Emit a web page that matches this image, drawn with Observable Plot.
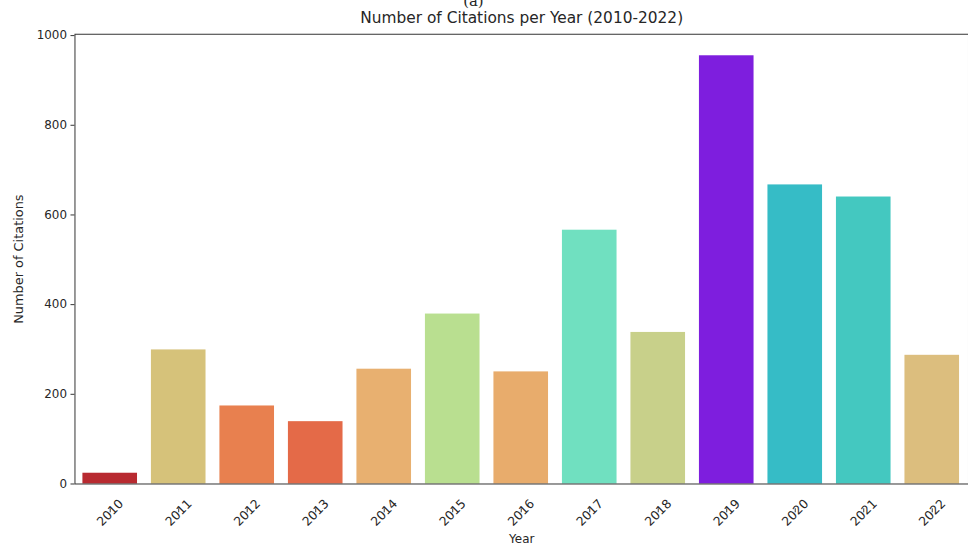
<!DOCTYPE html>
<html>
<head>
<meta charset="utf-8">
<script src="https://cdn.jsdelivr.net/npm/d3@7"></script>
<script src="https://cdn.jsdelivr.net/npm/@observablehq/plot@0.6"></script>
<style>
  html, body { margin: 0; padding: 0; background: #fff; overflow: hidden; }
  #chart { width: 968px; height: 551px; overflow: hidden; }
</style>
</head>
<body>
<div id="chart"></div>
<script>
const years = ["2010","2011","2012","2013","2014","2015","2016","2017","2018","2019","2020","2021","2022"];
const citations = [24, 299, 174, 139, 256, 379, 250, 566, 338, 955, 667, 640, 287];
const barColors = ["#b82a30","#d6c27a","#e8804f","#e46a48","#e8b070","#b9df90","#e8ac6c","#70e0c0","#c8d08a","#7e1ede","#36bcc6","#44c8c0","#dcbe7e"];
const yTicks = [0, 200, 400, 600, 800, 1000];
const titleText = "Number of Citations per Year (2010-2022)";
const panelTag = "(a)";
const xLabel = "Year";
const yLabel = "Number of Citations";

const data = years.map((y, i) => ({year: y, value: citations[i]}));

const chart = Plot.plot({
  width: 975,
  height: 551,
  marginLeft: 75,
  marginRight: 0,
  marginTop: 34,
  marginBottom: 64,
  style: {fontFamily: "DejaVu Sans, sans-serif", fontSize: "12px", color: "#262626", background: "#fff", overflow: "visible"},
  x: {domain: years, paddingInner: 0.2, paddingOuter: 0.1, label: null},
  y: {domain: [0, 1003], label: null},
  color: {domain: years, range: barColors},
  marks: [
    Plot.barY(data, {x: "year", y: "value", fill: "year"}),
    Plot.frame({stroke: "#333", strokeWidth: 1}),
    Plot.axisY({ticks: yTicks, tickFormat: d => String(d), tickSize: 4, tickPadding: 4, label: null, stroke: "#333", fill: "#262626", fontSize: 12}),
    Plot.axisX({tickSize: 4, tickRotate: -45, textAnchor: "middle", tickPadding: 0, dy: 25, label: null, stroke: "#333", fill: "#262626", fontSize: 12.5}),
    Plot.text([xLabel], {frameAnchor: "bottom", text: d => d, dy: 56, lineAnchor: "middle", fontSize: 12, fill: "#262626"}),
    Plot.text([yLabel], {frameAnchor: "left", text: d => d, rotate: -90, textAnchor: "middle", dx: -57, fontSize: 13, fill: "#262626"}),
    Plot.text([titleText], {frameAnchor: "top", text: d => d, dy: -16, lineAnchor: "middle", fontSize: 15.5, fill: "#262626"}),
    Plot.text([panelTag], {frameAnchor: "top-left", text: d => d, dx: 391, dy: -39, fontSize: 15, fontFamily: "DejaVu Serif, serif", fill: "#262626"})
  ]
});
document.getElementById("chart").appendChild(chart);
</script>
</body>
</html>
